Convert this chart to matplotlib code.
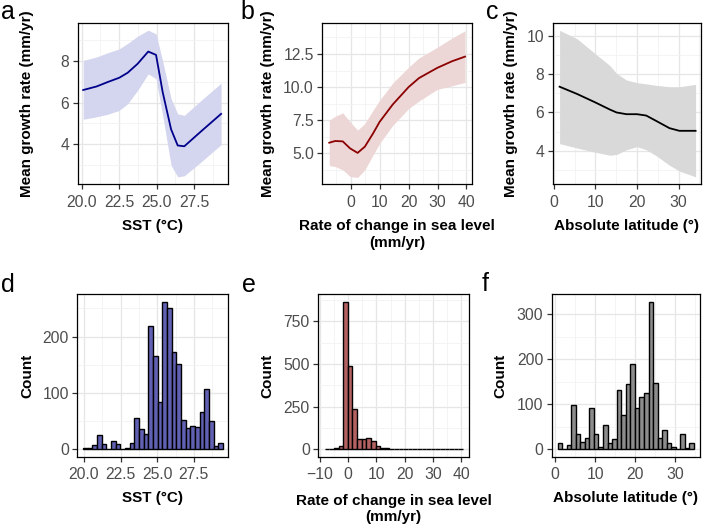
import numpy as np
import matplotlib
matplotlib.use("Agg")
import matplotlib.pyplot as plt
from matplotlib.ticker import FixedLocator

plt.rcParams['font.family'] = ['Liberation Sans', 'DejaVu Sans']

# ---------------- data ----------------
# Panel a: SST vs growth
a_x = [20.11, 21.0, 21.73, 22.51, 23.07, 23.73, 24.44, 24.96, 25.4, 25.96, 26.4, 26.84, 27.96, 29.29]
a_fit = [6.61, 6.78, 6.99, 7.2, 7.44, 7.87, 8.46, 8.30, 6.51, 4.72, 3.94, 3.90, 4.62, 5.46]
a_hi = [8.03, 8.2, 8.4, 8.59, 8.85, 9.2, 9.49, 9.31, 8.0, 6.19, 5.46, 5.39, 6.11, 6.94]
a_lo = [5.2, 5.32, 5.44, 5.63, 5.95, 6.59, 7.39, 7.15, 5.39, 2.99, 2.43, 2.48, 3.15, 3.98]

# Panel b: sea level change vs growth
b_x = [-7.39, -5.34, -2.73, -0.23, 2.39, 4.89, 7.73, 10, 14.5, 20, 23.6, 29.9, 35, 39.5]
b_fit = [5.8, 5.93, 5.9, 5.375, 5.03, 5.5, 6.5, 7.375, 8.68, 10.0, 10.68, 11.45, 11.95, 12.3]
b_hi = [7.5, 7.8, 8.05, 7.375, 6.75, 7.25, 8.25, 9.0, 10.3, 11.5, 12.2, 13.0, 13.7, 14.25]
b_lo = [4.08, 4.0, 3.75, 3.25, 3.18, 3.75, 4.875, 5.75, 7.1, 8.375, 8.95, 9.825, 10.1, 10.35]

# Panel c: latitude vs growth
c_x = [1.35, 5.56, 9.92, 13.5, 15.08, 17.46, 20, 22.2, 24.6, 27.8, 30.2, 34.1]
c_fit = [7.35, 6.97, 6.53, 6.15, 6.0, 5.91, 5.91, 5.84, 5.56, 5.18, 5.04, 5.04]
c_hi = [10.3, 9.86, 9.08, 8.45, 8.04, 7.7, 7.56, 7.5, 7.42, 7.35, 7.35, 7.47]
c_lo = [4.37, 4.14, 3.92, 3.76, 3.8, 4.05, 4.21, 4.05, 3.74, 3.24, 2.93, 2.63]

# Histograms (30 bins each)
d_range = (19.94, 29.5)
d_counts = [2, 3, 8, 26, 10, 1, 14, 9, 1, 3, 12, 55, 36, 27, 218, 165, 84, 262, 250, 172,
            152, 52, 38, 41, 39, 66, 107, 51, 5, 12]
e_range = (-8.2, 40.6)
e_counts = [2, 5, 8, 20, 865, 490, 237, 60, 62, 68, 50, 18, 10, 6, 4, 3, 3, 4, 2, 2,
            3, 2, 2, 1, 1, 1, 2, 1, 1, 1]
f_range = (0.57, 34.8)
f_counts = [13, 1, 10, 99, 35, 17, 26, 92, 35, 6, 53, 15, 23, 131, 76, 146, 190, 92, 115, 124,
            327, 147, 26, 43, 13, 5, 1, 35, 4, 14]

# Ticks
sst_ticks = [20.0, 22.5, 25.0, 27.5]
sst_labels = ["20.0", "22.5", "25.0", "27.5"]
sl_ticks_b = [0, 10, 20, 30, 40]
sl_ticks_e = [-10, 0, 10, 20, 30, 40]
lat_ticks = [0, 10, 20, 30]
a_yticks = [4, 6, 8]
b_yticks = [5.0, 7.5, 10.0, 12.5]
b_ylabels = ["5.0", "7.5", "10.0", "12.5"]
c_yticks = [4, 6, 8, 10]
d_yticks = [0, 100, 200]
e_yticks = [0, 250, 500, 750]
f_yticks = [0, 100, 200, 300]

ylab_growth = "Mean growth rate (mm/yr)"
ylab_count = "Count"
xlab_sst = "SST (°C)"
xlab_sl = ["Rate of change in sea level", "(mm/yr)"]
xlab_lat = "Absolute latitude (°)"

# ---------------- figure ----------------
W, H = 705, 524
fig = plt.figure(figsize=(W / 100, H / 100), dpi=100)


def add_ax(l, t, r, b):
    ax = fig.add_axes([l / W, 1 - b / H, (r - l) / W, (b - t) / H])
    ax._px = (l, t, r, b)
    return ax


def minor_of(ticks, lo, hi):
    step = ticks[1] - ticks[0]
    vals = np.arange(ticks[0] - step / 2, ticks[-1] + step, step)
    return [v for v in vals if lo <= v <= hi]


def style(ax, xticks, yticks, xlim, ylim, xlabels=None, ylabels=None):
    ax.set_xlim(*xlim)
    ax.set_ylim(*ylim)
    ax.set_xticks(xticks)
    ax.set_yticks(yticks)
    if xlabels is not None:
        ax.set_xticklabels(xlabels)
    if ylabels is not None:
        ax.set_yticklabels(ylabels)
    ax.xaxis.set_minor_locator(FixedLocator(minor_of(xticks, *xlim)))
    ax.yaxis.set_minor_locator(FixedLocator(minor_of(yticks, *ylim)))
    ax.grid(which='major', color='#E6E6E6', lw=0.9, zorder=0)
    ax.grid(which='minor', color='#F2F2F2', lw=0.6, zorder=0)
    ax.set_axisbelow(True)
    for s in ax.spines.values():
        s.set_color('black')
        s.set_linewidth(0.9)
    ax.tick_params(which='major', direction='out', length=3.5, width=0.9,
                   color='#333333', labelsize=11.3, labelcolor='#4D4D4D')
    ax.tick_params(axis='x', which='major', pad=4)
    ax.tick_params(axis='y', which='major', pad=2.5)
    ax.tick_params(which='minor', length=0)


def ylab(ax, text, xc):
    l, t, r, b = ax._px
    fig.text(xc / W, 1 - (t + b) / 2 / H, text, rotation=90, ha='center', va='center',
             fontsize=11, fontweight='bold')


def xlab(ax, lines, baselines):
    l, t, r, b = ax._px
    if isinstance(lines, str):
        lines = [lines]
    for s, y in zip(lines, baselines):
        fig.text((l + r) / 2 / W, 1 - y / H, s, ha='center', va='baseline',
                 fontsize=11, fontweight='bold')


# Row 1
axa = add_ax(77.5, 22.7, 228, 184.3)
axa.fill_between(a_x, a_lo, a_hi, color='#D4D5EE', lw=0, zorder=2)
axa.plot(a_x, a_fit, color='#00008B', lw=1.3, zorder=3)
style(axa, sst_ticks, a_yticks, (19.73, 29.75), (2.07, 9.85), xlabels=sst_labels)
ylab(axa, ylab_growth, 27.5)
xlab(axa, xlab_sst, [230])

axb = add_ax(322.3, 22.7, 472, 184.3)
axb.fill_between(b_x, b_lo, b_hi, color='#EDD6D6', lw=0, zorder=2)
axb.plot(b_x, b_fit, color='#8B0000', lw=1.3, zorder=3)
style(axb, sl_ticks_b, b_yticks, (-9.8, 41.9), (2.66, 14.86), ylabels=b_ylabels)
ylab(axb, ylab_growth, 268)
xlab(axb, xlab_sl, [230, 246.5])

axc = add_ax(552.7, 22.7, 701, 184.3)
axc.fill_between(c_x, c_lo, c_hi, color='#D9D9D9', lw=0, zorder=2)
axc.plot(c_x, c_fit, color='black', lw=1.3, zorder=3)
style(axc, lat_ticks, c_yticks, (-0.3, 35.4), (2.24, 10.7))
ylab(axc, ylab_growth, 511)
xlab(axc, xlab_lat, [230])


# Row 2
def hist(ax, rng, counts, color):
    edges = np.linspace(rng[0], rng[1], len(counts) + 1)
    ax.bar(edges[:-1], counts, width=np.diff(edges), align='edge',
           color=color, edgecolor='black', linewidth=1.0, zorder=2)


axd = add_ax(77.3, 294.3, 228.3, 456.7)
hist(axd, d_range, d_counts, '#6161B3')
style(axd, sst_ticks, d_yticks, (19.55, 29.85), (-13.1, 275), xlabels=sst_labels)
ylab(axd, ylab_count, 27)
xlab(axd, xlab_sst, [502])

axe = add_ax(318.3, 294.3, 469, 456.7)
hist(axe, e_range, e_counts, '#B46161')
style(axe, sl_ticks_e, e_yticks, (-10.5, 42.7), (-43, 908))
ylab(axe, ylab_count, 267.5)
xlab(axe, xlab_sl, [504.5, 520.5])

axf = add_ax(551.7, 294.3, 700, 456.7)
hist(axf, f_range, f_counts, '#8C8C8C')
style(axf, lat_ticks, f_yticks, (-0.9, 36.3), (-16.4, 344))
ylab(axf, ylab_count, 500.5)
xlab(axf, xlab_lat, [502])

# Panel letters
letters = [("a", 1, 19.3), ("b", 240, 19.3), ("c", 486, 19.3),
           ("d", 1, 291.7), ("e", 242, 291.7), ("f", 482, 290.7)]
for t, x, y in letters:
    fig.text(x / W, 1 - y / H, t, fontsize=18, ha='left', va='baseline')

fig.savefig("out.png", dpi=100)
